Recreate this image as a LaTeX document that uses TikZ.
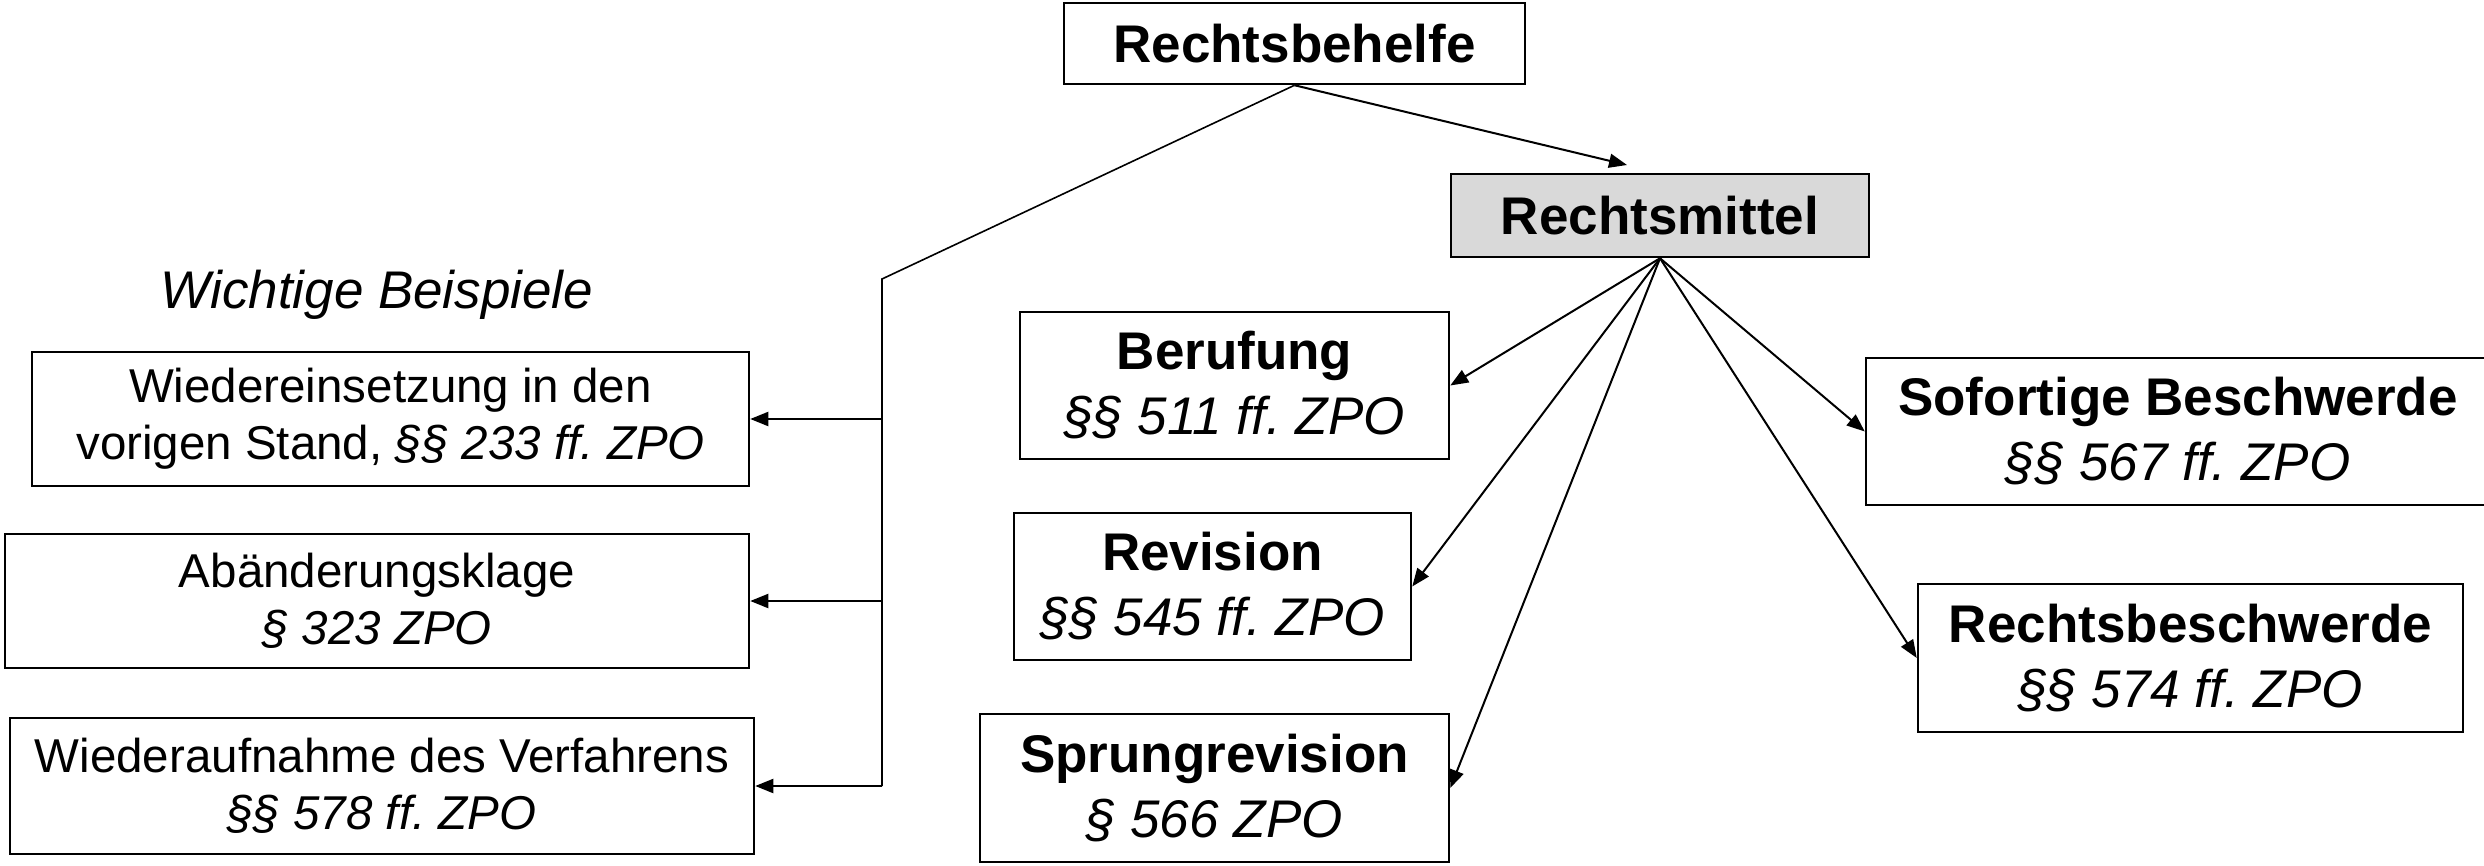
\documentclass[tikz,border=0pt]{standalone}
\usepackage{fontspec}
\setmainfont[Ligatures=NoCommon]{Liberation Sans}
\frenchspacing
\usetikzlibrary{arrows.meta}
\tikzset{
  box/.style={draw=black, line width=2.5pt, inner sep=0pt, align=center, font=\fontsize{53}{65}\selectfont},
  lbox/.style={box, font=\fontsize{47.5}{57}\selectfont},
  arr/.style={line width=2pt, -{Triangle[length=18pt,width=14pt]}},
  thin/.style={line width=1.6pt}
}
\begin{document}
\begin{tikzpicture}[x=1pt,y=-1pt]
\useasboundingbox (0,0) rectangle (2484,865);
% top
\node[box, minimum width=461, minimum height=81] (rb) at (1294.5,43.5) {\textbf{Rechtsbehelfe}};
\node[box, fill={rgb,255:red,217;green,217;blue,217}, minimum width=418, minimum height=83] (rm) at (1660,215.5) {\textbf{Rechtsmittel}};
% right side
\node[box, minimum width=429, minimum height=147] (ber) at (1234.5,385.5) {\textbf{Berufung}\\\textit{§§ 511 ff. ZPO}};
\node[box, minimum width=397, minimum height=147] (rev) at (1212.5,586.5) {\textbf{Revision}\\\textit{§§ 545 ff. ZPO}};
\node[box, minimum width=469, minimum height=148] (spr) at (1214.5,788) {\textbf{Sprungrevision}\\\textit{§ 566 ZPO}};
\node[box, minimum width=624, minimum height=147] (sof) at (2178,431.5) {\textbf{Sofortige Beschwerde}\\\textit{§§ 567 ff. ZPO}};
\node[box, minimum width=545, minimum height=148] (rbs) at (2190.5,658) {\textbf{Rechtsbeschwerde}\\\textit{§§ 574 ff. ZPO}};
% left side
\node[font=\fontsize{53}{64}\selectfont\itshape] (wb) at (377,295) {Wichtige Beispiele};
\node[lbox, minimum width=717, minimum height=134] (w1) at (390.5,419) {Wiedereinsetzung in den\\vorigen Stand, \textit{§§ 233 ff. ZPO}};
\node[lbox, minimum width=744, minimum height=134] (w2) at (377,601) {Abänderungsklage\\\textit{§ 323 ZPO}};
\node[lbox, minimum width=744, minimum height=136] (w3) at (382,786) {Wiederaufnahme des Verfahrens\\\textit{§§ 578 ff. ZPO}};
% connectors
\coordinate (rmtip) at (1627,165);
\coordinate (brtop) at (882,279);
\draw[arr] (rb.south) -- (rmtip);
\draw[thin] (rb.south) -- (brtop) -- (brtop |- w3.east);
\draw[arr] (brtop |- w1.east) -- (w1.east);
\draw[arr] (brtop |- w2.east) -- (w2.east);
\draw[arr] (brtop |- w3.east) -- (w3.east);
\draw[arr] (rm.south) -- (ber.east);
\draw[arr] (rm.south) -- (rev.east);
\draw[arr] (rm.south) -- (spr.east);
\draw[arr] (rm.south) -- (sof.west);
\draw[arr] (rm.south) -- (rbs.west);
\end{tikzpicture}
\end{document}
